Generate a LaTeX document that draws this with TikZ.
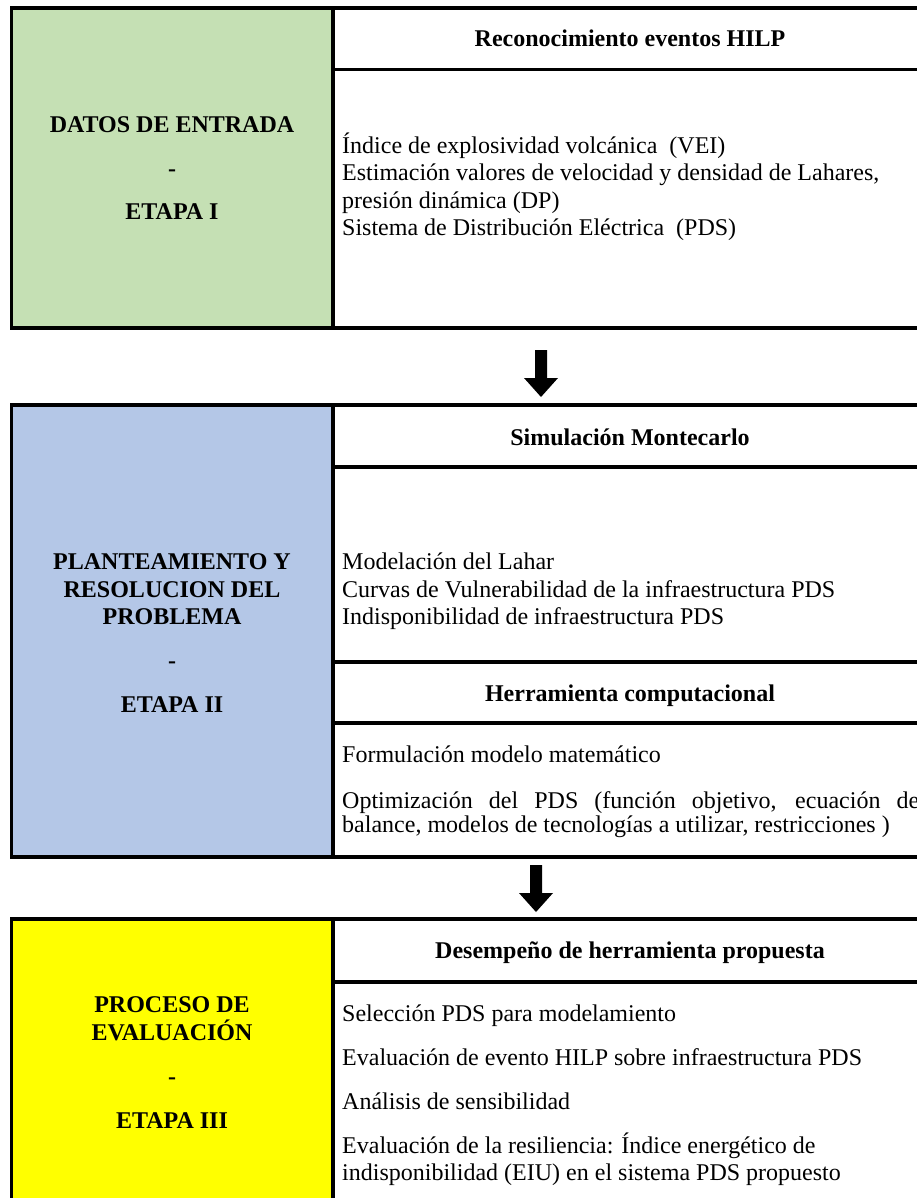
\documentclass[tikz,border=0pt]{standalone}
\usepackage{fontspec}
\setmainfont{Liberation Serif}
\definecolor{stageone}{HTML}{C5E0B4}
\definecolor{stagetwo}{HTML}{B4C7E7}
\definecolor{stagethree}{HTML}{FFFF00}
\begin{document}
\begin{tikzpicture}[x=1pt,y=-1pt,
  frame/.style={line width=3.2pt},
  bodytext/.style={anchor=base west,inner sep=0pt,font=\fontsize{24}{27.5}\selectfont},
  headtext/.style={anchor=base,inner sep=0pt,font=\fontsize{24}{27.5}\selectfont\bfseries},
  lefttext/.style={anchor=base,inner sep=0pt,font=\fontsize{24}{27.5}\selectfont\bfseries},
  blockarrow/.style={fill=black}]
\clip (0,0) rectangle (917,1198);
\fill[white] (0,0) rectangle (917,1198);

% ---------- Block 1 ----------
\fill[stageone] (11.5,8) rectangle (333,328);
\draw[frame] (11.5,8) rectangle (928,328);
\draw[frame] (333,8) -- (333,328);
\draw[frame] (333,69.5) -- (928,69.5);
\node[lefttext] (l1a) at (172,133) {DATOS DE ENTRADA};
\node[lefttext] (l1b) at (172,176.5) {-};
\node[lefttext] (l1c) at (172,220) {ETAPA I};
\node[headtext] (h1) at (630,47) {Reconocimiento eventos HILP};
\node[bodytext] (b1a) at (342,153.5) {Índice de explosividad volcánica\ \ (VEI)};
\node[bodytext] (b1b) at (342,181) {Estimación valores de velocidad y densidad de Lahares,};
\node[bodytext] (b1c) at (342,208.5) {presión dinámica (DP)};
\node[bodytext] (b1d) at (342,236) {Sistema de Distribución Eléctrica\ \ (PDS)};

% ---------- Arrow 1 ----------
\fill[blockarrow] (541,350) ++(-6,0) -- ++(12,0) -- ++(0,28) -- ++(11,0) -- ++(-17,19) -- ++(-17,-19) -- ++(11,0) -- cycle;

% ---------- Block 2 ----------
\fill[stagetwo] (11.5,405) rectangle (333,857);
\draw[frame] (11.5,405) rectangle (928,857);
\draw[frame] (333,405) -- (333,857);
\draw[frame] (333,467) -- (928,467);
\draw[frame] (333,662) -- (928,662);
\draw[frame] (333,723) -- (928,723);
\node[lefttext] (l2a) at (172,569.5) {PLANTEAMIENTO Y};
\node[lefttext] (l2b) at (172,597) {RESOLUCION DEL};
\node[lefttext] (l2c) at (172,624.5) {PROBLEMA};
\node[lefttext] (l2d) at (172,668.5) {-};
\node[lefttext] (l2e) at (172,712) {ETAPA II};
\node[headtext] (h2) at (630,445) {Simulación Montecarlo};
\node[bodytext] (b2a) at (342,569.5) {Modelación del Lahar};
\node[bodytext] (b2b) at (342,597) {Curvas de Vulnerabilidad de la infraestructura PDS};
\node[bodytext] (b2c) at (342,624.5) {Indisponibilidad de infraestructura PDS};
\node[headtext] (h3) at (630,701) {Herramienta computacional};
\node[bodytext] (b3a) at (342,762.5) {Formulación modelo matemático};
\node[bodytext] (b3b) at (342,808) {\makebox[577pt][s]{Optimización del PDS (función objetivo, ecuación de}};
\node[bodytext] (b3c) at (342,832.5) {balance, modelos de tecnologías a utilizar, restricciones )};

% ---------- Arrow 2 ----------
\fill[blockarrow] (536,865) ++(-6,0) -- ++(12,0) -- ++(0,28) -- ++(11,0) -- ++(-17,19) -- ++(-17,-19) -- ++(11,0) -- cycle;

% ---------- Block 3 ----------
\fill[stagethree] (11.5,919) rectangle (333,1240);
\draw[frame] (11.5,919) rectangle (928,1240);
\draw[frame] (333,919) -- (333,1240);
\draw[frame] (333,982) -- (928,982);
\node[lefttext] (l3a) at (172,1012.5) {PROCESO DE};
\node[lefttext] (l3b) at (172,1040) {EVALUACIÓN};
\node[lefttext] (l3c) at (172,1084) {-};
\node[lefttext] (l3d) at (172,1128) {ETAPA III};
\node[headtext] (h4) at (630,958) {Desempeño de herramienta propuesta};
\node[bodytext] (b4a) at (342,1021) {Selección PDS para modelamiento};
\node[bodytext] (b4b) at (342,1065) {Evaluación de evento HILP sobre infraestructura PDS};
\node[bodytext] (b4c) at (342,1109) {Análisis de sensibilidad};
\node[bodytext] (b4d) at (342,1153) {Evaluación de la resiliencia: Índice energético de};
\node[bodytext] (b4e) at (342,1180.5) {indisponibilidad (EIU) en el sistema PDS propuesto};
\end{tikzpicture}
\end{document}
